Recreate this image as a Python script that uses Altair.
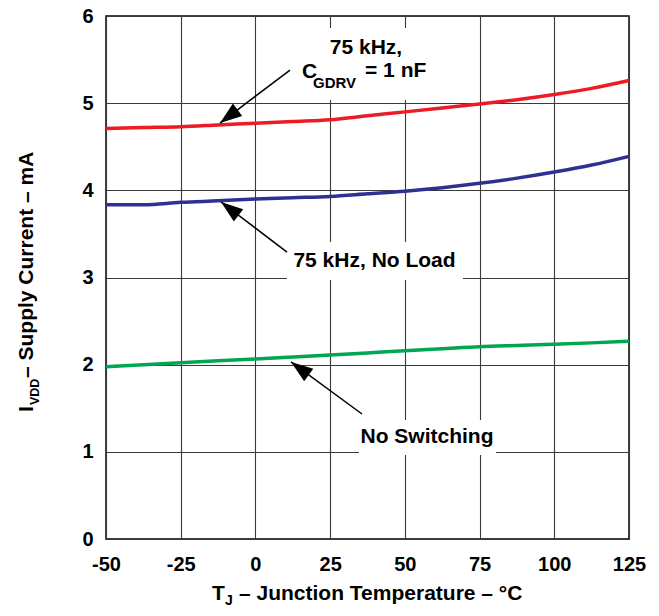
import math
import altair as alt
import pandas as pd

# ---- axis ranges / ticks ----
X_DOMAIN = [-50, 125]
Y_DOMAIN = [0, 6]
X_TICKS = [-50, -25, 0, 25, 50, 75, 100, 125]
Y_TICKS = [0, 1, 2, 3, 4, 5, 6]

# ---- series data ----
temp_t = [-50, -37.5, -25, -12.5, 0, 12.5, 25, 37.5, 50, 62.5, 75, 87.5, 100, 112.5, 125]
red_i = [4.71, 4.72, 4.73, 4.75, 4.77, 4.79, 4.81, 4.855, 4.90, 4.945, 4.99, 5.04, 5.10, 5.17, 5.26]
blue_i = [3.835, 3.835, 3.862, 3.88, 3.90, 3.915, 3.93, 3.96, 3.99, 4.03, 4.08, 4.14, 4.21, 4.29, 4.39]
green_i = [1.977, 2.0, 2.023, 2.044, 2.065, 2.087, 2.11, 2.135, 2.16, 2.183, 2.206, 2.22, 2.233, 2.25, 2.27]

SERIES = ["75 kHz, CGDRV = 1 nF", "75 kHz, No Load", "No Switching"]
COLORS = ["#ED1C24", "#2E3192", "#00A651"]

# ---- annotation data ----
arrow_x0 = [11.57, 10.56, 35.66]
arrow_y0 = [5.380, 3.292, 1.434]
arrow_x1 = [-11.85, -11.52, 11.90]
arrow_y1 = [4.772, 3.866, 2.031]

box_x1 = [11.57, 10.56, 34.66]
box_x2 = [61.76, 69.46, 80.50]
box_y1 = [5.036, 2.971, 0.964]
box_y2 = [5.862, 3.407, 1.365]

W = H = 523
px_x = W / (X_DOMAIN[1] - X_DOMAIN[0])
px_y = H / (Y_DOMAIN[1] - Y_DOMAIN[0])

FONT = "Liberation Sans"

rows = []
for name, vals in zip(SERIES, [red_i, blue_i, green_i]):
    for t, v in zip(temp_t, vals):
        rows.append({"t": t, "i": v, "series": name})
df = pd.DataFrame(rows)

arrows = pd.DataFrame({"x": arrow_x0, "y": arrow_y0, "x2": arrow_x1, "y2": arrow_y1})
arrows["ang"] = [
    math.degrees(math.atan2((b - a) * px_x, (d - c) * px_y)) % 360
    for a, b, c, d in zip(arrow_x0, arrow_x1, arrow_y0, arrow_y1)
]
boxes = pd.DataFrame({"x": box_x1, "x2": box_x2, "y": box_y1, "y2": box_y2})

xs = alt.Scale(domain=X_DOMAIN, nice=False, zero=False)
ys = alt.Scale(domain=Y_DOMAIN, nice=False, zero=False)
xax = alt.Axis(values=X_TICKS, title=None, labelPadding=15, labelFlush=False,
               labelExpr="toString(datum.value)")
yax = alt.Axis(values=Y_TICKS, title=None, labelPadding=13, labelFlush=False,
               labelExpr="toString(datum.value)")

box_layer = alt.Chart(boxes).mark_rect(color="white").encode(
    x=alt.X("x:Q", scale=xs, axis=xax), x2="x2", y=alt.Y("y:Q", scale=ys, axis=yax), y2="y2"
)

lines = alt.Chart(df).mark_line(strokeWidth=3.5, interpolate="monotone").encode(
    x=alt.X("t:Q", scale=xs, axis=xax),
    y=alt.Y("i:Q", scale=ys, axis=yax),
    color=alt.Color("series:N", scale=alt.Scale(domain=SERIES, range=COLORS), legend=None),
    detail="series:N",
)

shafts = alt.Chart(arrows).mark_rule(color="black", strokeWidth=1.5).encode(
    x="x:Q", y="y:Q", x2="x2", y2="y2"
)
heads = alt.Chart(arrows).mark_point(
    shape="M0,0L-0.7,2L0.7,2Z", size=484, filled=True, color="black", opacity=1, strokeWidth=0
).encode(
    x="x2:Q", y="y2:Q", angle=alt.Angle("ang:Q", scale=None)
)

# label texts (data coordinates)
lab_center = pd.DataFrame({
    "x": [37.0, 39.85, 57.4],
    "y": [5.564, 3.124, 1.101],
    "text": ["75 kHz,", "75 kHz, No Load", "No Switching"],
})
lab_left = pd.DataFrame({
    "x": [15.58, 19.26, 36.67],
    "y": [5.289, 5.174, 5.30],
    "text": ["C", "GDRV", "= 1 nF"],
    "fs": [21, 15, 21],
})

t_center = alt.Chart(lab_center).mark_text(
    font=FONT, fontWeight="bold", fontSize=21, align="center", baseline="alphabetic", color="black"
).encode(x="x:Q", y="y:Q", text="text:N")
t_left = alt.Chart(lab_left).mark_text(
    font=FONT, fontWeight="bold", align="left", baseline="alphabetic", color="black"
).encode(x="x:Q", y="y:Q", text="text:N", size=alt.Size("fs:Q", scale=None, legend=None))

one = pd.DataFrame({"a": [0]})

def ptext(txt, x, y, fs, angle=0):
    return alt.Chart(one).mark_text(
        text=txt, x=x, y=y, fontSize=fs, font=FONT, fontWeight="bold",
        align="left", baseline="alphabetic", angle=angle, color="black",
    )

x_title = [
    ptext("T", 106, 584, 21),
    ptext("J", 119, 589, 14),
    ptext("\u2013 Junction Temperature \u2013 \u00b0C", 133, 584, 21),
]
y_title = [
    ptext("I", -73, 396, 21, 270),
    ptext("VDD", -67, 389, 12.5, 270),
    ptext("\u2013 Supply Current \u2013 mA", -73, 362, 21, 270),
]

chart = alt.layer(
    box_layer, lines, shafts, heads, t_center, t_left, *x_title, *y_title
).properties(
    width=W, height=H,
    autosize=alt.AutoSizeParams(type="none"),
    padding={"left": 98, "top": 8, "right": 22, "bottom": 69},
).configure_view(
    stroke="black", strokeWidth=1.5
).configure_axis(
    grid=True, gridColor="#3a3a3a", gridWidth=1.1, domain=False, ticks=False,
    labelFont=FONT, labelFontWeight="bold", labelFontSize=20, labelColor="black",
)

chart.save("out.html", embed_options={"renderer": "svg", "actions": False})
